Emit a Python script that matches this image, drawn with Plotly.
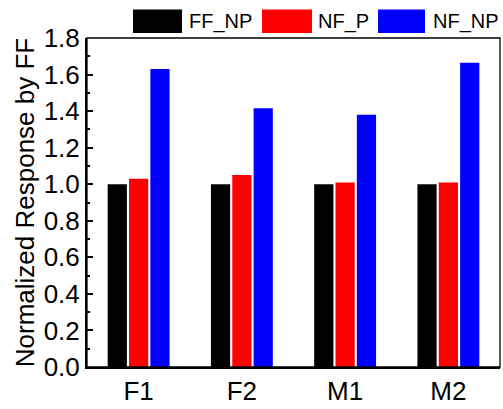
import plotly.graph_objects as go

categories = ["F1", "F2", "M1", "M2"]
series_names = ["FF_NP", "NF_P", "NF_NP"]
ff_np = [1.0, 1.0, 1.0, 1.0]
nf_p = [1.03, 1.05, 1.01, 1.01]
nf_np = [1.63, 1.415, 1.38, 1.665]
colors = ["#000000", "#ff0000", "#0000ff"]

fig = go.Figure()
for name, vals, c in zip(series_names, [ff_np, nf_p, nf_np], colors):
    fig.add_trace(go.Bar(x=categories, y=vals, name=name, marker=dict(color=c, line=dict(width=0)),
                         showlegend=False))

font = "Liberation Sans, Arial, sans-serif"
W, H = 503, 409
L, R, T, B = 87, 3, 38, 37
pw, ph = W - L - R, H - T - B

def px(x):
    return (x - L) / pw

def py(y):
    return (H - B - y) / ph

shapes = []
annotations = []
legend_items = [(133, 182, 187), (262, 312, 316), (378, 425, 431)]
for (x0, x1, tx), name, c in zip(legend_items, series_names, colors):
    shapes.append(dict(type="rect", xref="paper", yref="paper", x0=px(x0), x1=px(x1),
                       y0=py(33), y1=py(9), fillcolor=c, line=dict(width=0), layer="above"))
    annotations.append(dict(text=name, xref="paper", yref="paper", x=px(tx), y=py(21),
                            xanchor="left", yanchor="middle", showarrow=False,
                            font=dict(family=font, size=20, color="black")))
shapes.append(dict(type="rect", xref="paper", yref="paper", x0=0, x1=1, y0=0, y1=1,
                   line=dict(color="black", width=1.3), layer="above"))

fig.update_layout(
    width=W, height=H,
    margin=dict(l=L, r=R, t=T, b=B),
    paper_bgcolor="white", plot_bgcolor="white",
    barmode="group", bargap=0.38, bargroupgap=0.1,
    font=dict(family=font, color="black"),
    shapes=shapes, annotations=annotations,
    xaxis=dict(showline=True, linecolor="black", linewidth=2, ticks="", showgrid=False,
               tickfont=dict(size=26), range=[-0.5, 3.5]),
    yaxis=dict(showline=True, linecolor="black", linewidth=2, ticks="inside", ticklen=6,
               tickwidth=2, tickcolor="black", range=[0, 1.8], dtick=0.2, tickformat=".1f",
               showgrid=False, zeroline=False, tickfont=dict(size=26),
               minor=dict(ticks="inside", dtick=0.1, ticklen=3, tickwidth=2, tickcolor="black"),
               title=dict(text="Normalized Response by FF", font=dict(size=26), standoff=2)),
)
fig.write_html("out.html")
